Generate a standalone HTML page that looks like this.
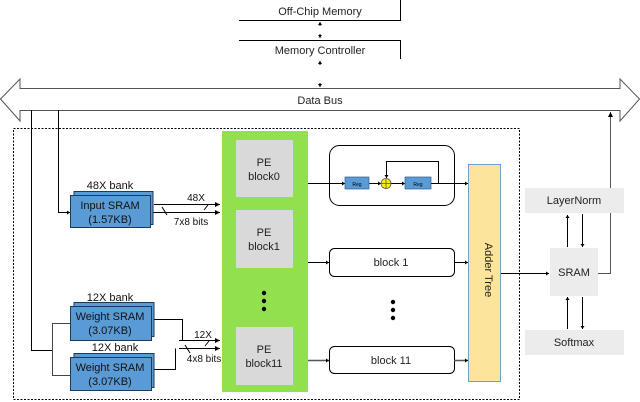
<!DOCTYPE html>
<html><head><meta charset="utf-8"><style>
html,body{margin:0;padding:0;background:#fff;}
svg{display:block;font-family:"Liberation Sans",sans-serif;}
</style></head><body>
<svg width="640" height="402" viewBox="0 0 640 402" xmlns="http://www.w3.org/2000/svg">
<defs>
<marker id="a" markerWidth="6" markerHeight="6" refX="5" refY="3" orient="auto" markerUnits="userSpaceOnUse"><path d="M0,0.5 L5,3 L0,5.5z" fill="#000"/></marker>
<marker id="s" markerWidth="4" markerHeight="4" refX="3" refY="2" orient="auto" markerUnits="userSpaceOnUse"><path d="M0,0 L3,2 L0,4z" fill="#000"/></marker>
</defs>
<g stroke="#000" stroke-width="1" fill="none">
<!-- top boxes -->
<polyline points="239,20.5 400.5,20.5 400.5,0"/>
<polyline points="239,40.5 400.5,40.5 400.5,59"/>
<line x1="320" y1="26" x2="320" y2="22" marker-end="url(#s)"/>
<line x1="320" y1="34" x2="320" y2="38" marker-end="url(#s)"/>
<line x1="320" y1="65" x2="320" y2="61" marker-end="url(#s)"/>
<line x1="320" y1="83" x2="320" y2="87" marker-end="url(#s)"/>
<!-- bus -->
<path d="M20,88.5 L620,88.5 L620,79 L639.5,99 L620,121 L620,110.5 L20,110.5 L20,121 L0.5,99 L20,79 Z" stroke="#555"/>
<!-- dashed box -->
<rect x="13.5" y="128.5" width="506" height="271" stroke-dasharray="2,1.5"/>
<!-- vertical lines from bus -->
<polyline points="58.5,110 58.5,212.5 70,212.5" marker-end="url(#s)"/>
<polyline points="31.5,110 31.5,350.5 52.5,350.5"/>
<polyline points="70,323.5 52.5,323.5 52.5,375.5 70,375.5" stroke="#444"/>
<!-- input sram outputs -->
<line x1="154" y1="204.5" x2="220" y2="204.5" marker-end="url(#a)"/>
<line x1="150" y1="212.5" x2="220" y2="212.5" marker-end="url(#a)"/>
<line x1="162" y1="207" x2="167" y2="215"/>
<line x1="204" y1="210" x2="208" y2="205"/>
<!-- weight outputs -->
<polyline points="154,319.5 182.5,319.5 182.5,340.5"/>
<polyline points="154,369.5 175.5,369.5 175.5,348.5"/>
<line x1="179" y1="340.5" x2="220" y2="340.5" marker-end="url(#a)"/>
<line x1="179" y1="348.5" x2="220" y2="348.5" marker-end="url(#a)"/>
<line x1="185" y1="345" x2="190" y2="353"/>
<line x1="205" y1="346" x2="209" y2="341"/>
</g>
<!-- green PE -->
<rect x="222" y="131" width="86" height="261" fill="#92e04d"/>
<rect x="236" y="140" width="57" height="57" fill="#d9d9d9"/>
<rect x="236" y="210" width="57" height="58" fill="#d9d9d9"/>
<rect x="236" y="327" width="57" height="58" fill="#d9d9d9"/>
<circle cx="264" cy="293" r="2.2"/><circle cx="264" cy="301" r="2.2"/><circle cx="264" cy="309" r="2.2"/>
<g font-size="11" text-anchor="middle" fill="#222">
<text x="264" y="166">PE</text><text x="264" y="180">block0</text>
<text x="264" y="236">PE</text><text x="264" y="250">block1</text>
<text x="264" y="353">PE</text><text x="264" y="367">block11</text>
</g>
<!-- SRAMs -->
<g stroke="#1e3a5a" stroke-width="1" fill="#5b9bd5">
<rect x="74" y="191.5" width="79" height="33"/>
<rect x="70.5" y="195.5" width="80" height="32"/>
<rect x="74" y="302.5" width="80" height="34"/>
<rect x="70.5" y="306.5" width="81" height="34"/>
<rect x="74" y="353.5" width="80" height="34"/>
<rect x="70.5" y="357.5" width="81" height="33"/>
</g>
<g font-size="11" text-anchor="middle" fill="#111">
<text x="110" y="189">48X bank</text>
<text x="110" y="209">Input SRAM</text><text x="110" y="223">(1.57KB)</text>
<text x="110" y="301">12X bank</text>
<text x="110" y="320">Weight SRAM</text><text x="110" y="334">(3.07KB)</text>
<text x="115" y="351">12X bank</text>
<text x="110" y="371">Weight SRAM</text><text x="110" y="385">(3.07KB)</text>
<text x="196" y="201" font-size="10">48X</text>
<text x="191" y="225" font-size="10">7x8 bits</text>
<text x="203" y="338" font-size="10">12X</text>
<text x="204" y="362" font-size="10">4x8 bits</text>
</g>
<!-- right pipeline -->
<g stroke="#000" fill="none">
<rect x="329.5" y="145.5" width="125" height="60" rx="10"/>
<rect x="329.5" y="248.5" width="125" height="28" rx="5"/>
<rect x="329.5" y="346.5" width="125" height="27" rx="5"/>
<line x1="308" y1="183.5" x2="345" y2="183.5" marker-end="url(#s)"/>
<line x1="369" y1="183.5" x2="381" y2="183.5" marker-end="url(#s)"/>
<line x1="391" y1="183.5" x2="405" y2="183.5" marker-end="url(#s)"/>
<polyline points="431,183.5 468,183.5" marker-end="url(#s)"/>
<polyline points="438.5,183 438.5,161.5 386.5,161.5 386.5,178" marker-end="url(#s)"/>
<line x1="308" y1="262.5" x2="329" y2="262.5" marker-end="url(#s)"/>
<line x1="454" y1="262.5" x2="468" y2="262.5" marker-end="url(#s)"/>
<line x1="308" y1="360.5" x2="329" y2="360.5" stroke="#555" stroke-width="1.5" marker-end="url(#s)"/>
<line x1="454" y1="360.5" x2="468" y2="360.5" stroke="#555" stroke-width="1.5" marker-end="url(#s)"/>
<line x1="501" y1="273.5" x2="549" y2="273.5" marker-end="url(#s)"/>
<polyline points="598,273.5 610.5,273.5 610.5,112" stroke="#555" marker-end="url(#a)"/>
</g>
<rect x="345" y="177" width="24" height="12" fill="#5b9bd5" stroke="#2e5f8a" stroke-width="0.7"/>
<rect x="405" y="177" width="26" height="12" fill="#5b9bd5" stroke="#2e5f8a" stroke-width="0.7"/>
<text x="357" y="186" font-size="5" text-anchor="middle">Reg</text>
<text x="418" y="186" font-size="5" text-anchor="middle">Reg</text>
<circle cx="386" cy="183.5" r="5" fill="#ffef00" stroke="#555" stroke-width="0.8"/>
<path d="M381,183.5 H391 M386,178.5 V188.5" stroke="#555" stroke-width="0.8"/>
<circle cx="393" cy="302" r="2.2"/><circle cx="393" cy="310" r="2.2"/><circle cx="393" cy="318" r="2.2"/>
<g font-size="11" text-anchor="middle" fill="#222">
<text x="391" y="266">block 1</text>
<text x="391" y="364">block 11</text>
</g>
<rect x="468.5" y="164.5" width="32" height="217" fill="#fde49b" stroke="#6f9ed0"/>
<text x="485" y="270" font-size="11" text-anchor="middle" transform="rotate(90 485 270)" fill="#222">Adder Tree</text>
<rect x="525" y="188" width="99" height="25" fill="#ececec"/>
<rect x="550" y="248" width="48" height="48" fill="#ececec"/>
<rect x="525" y="330" width="99" height="25" fill="#ececec"/>
<g font-size="11" text-anchor="middle" fill="#222">
<text x="574" y="204">LayerNorm</text>
<text x="574" y="276">SRAM</text>
<text x="574" y="346">Softmax</text>
<text x="320" y="15">Off-Chip Memory</text>
<text x="320" y="54">Memory Controller</text>
<text x="320" y="104">Data Bus</text>
</g>
<g stroke="#000" fill="none">
<line x1="567.5" y1="247" x2="567.5" y2="215" marker-end="url(#s)"/>
<line x1="582.5" y1="214" x2="582.5" y2="247" marker-end="url(#s)"/>
<line x1="567.5" y1="329" x2="567.5" y2="297" marker-end="url(#s)"/>
<line x1="582.5" y1="297" x2="582.5" y2="329" marker-end="url(#s)"/>
</g>
</svg>
</body></html>
